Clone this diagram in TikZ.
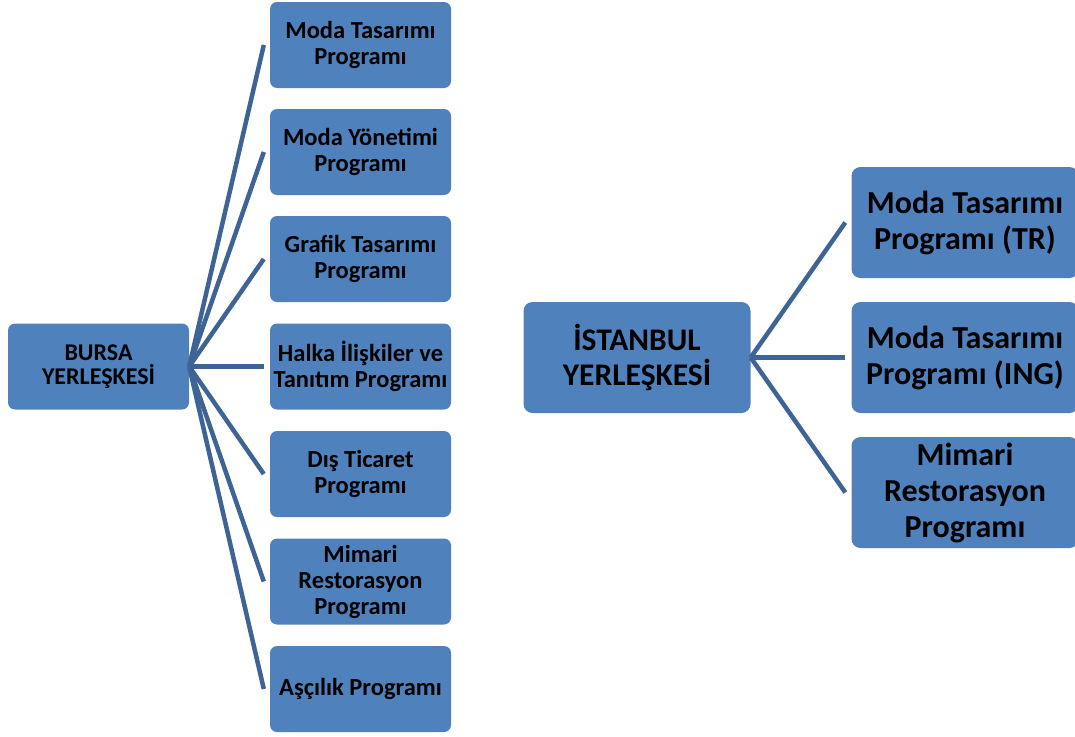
\documentclass[tikz,border=0pt]{standalone}
\usepackage{fontspec}
\setmainfont{Carlito}
\definecolor{boxblue}{RGB}{79, 129, 189}
\definecolor{lineblue}{RGB}{62, 100, 150}
\usetikzlibrary{positioning}

\begin{document}
\begin{tikzpicture}[
  x=1pt, y=-1pt,
  box/.style={fill=boxblue, rounded corners=7pt, minimum width=181pt, minimum height=86pt, align=center, inner sep=2pt},
  small/.style={box, font=\fontsize{24.5}{26}\selectfont\bfseries},
  big/.style={box, rounded corners=9pt, minimum width=227pt, minimum height=111pt, font=\fontsize{32}{36}\selectfont\bfseries},
  link/.style={draw=lineblue, line width=4.5pt}
]
  \clip (0,0) rectangle (1075,736);

  % Bursa
  \node[small, font=\fontsize{24}{24.5}\selectfont\bfseries] (bursa) at (98.5, 366.5) {BURSA\\YERLEŞKESİ};
  \node[small] (b1) at (360.5, 45) {Moda Tasarımı\\Programı};
  \node[small] (b2) at (360.5, 152) {Moda Yönetimi\\Programı};
  \node[small] (b3) at (360.5, 259) {Grafik Tasarımı\\Programı};
  \node[small] (b4) at (360.5, 366.5) {Halka İlişkiler ve\\Tanıtım Programı};
  \node[small] (b5) at (360.5, 474) {Dış Ticaret\\Programı};
  \node[small] (b6) at (360.5, 581.5) {Mimari\\Restorasyon\\Programı};
  \node[small] (b7) at (360.5, 689) {Aşçılık Programı};

  \draw[link] (bursa.east) -- ([xshift=-6pt]b1.west);
  \draw[link] (bursa.east) -- ([xshift=-6pt]b2.west);
  \draw[link] (bursa.east) -- ([xshift=-6pt]b3.west);
  \draw[link] (bursa.east) -- ([xshift=-6pt]b4.west);
  \draw[link] (bursa.east) -- ([xshift=-6pt]b5.west);
  \draw[link] (bursa.east) -- ([xshift=-6pt]b6.west);
  \draw[link] (bursa.east) -- ([xshift=-6pt]b7.west);

  % Istanbul
  \node[big, font=\fontsize{31.5}{35}\selectfont\bfseries] (ist) at (637, 357.5) {İSTANBUL\\YERLEŞKESİ};
  \node[big] (i1) at (965, 222.5) {Moda Tasarımı\\Programı (TR)};
  \node[big] (i2) at (965, 357.5) {Moda Tasarımı\\Programı (ING)};
  \node[big] (i3) at (965, 492.5) {Mimari\\Restorasyon\\Programı};

  \draw[link] (ist.east) -- ([xshift=-6pt]i1.west);
  \draw[link] (ist.east) -- ([xshift=-6pt]i2.west);
  \draw[link] (ist.east) -- ([xshift=-6pt]i3.west);
\end{tikzpicture}
\end{document}
